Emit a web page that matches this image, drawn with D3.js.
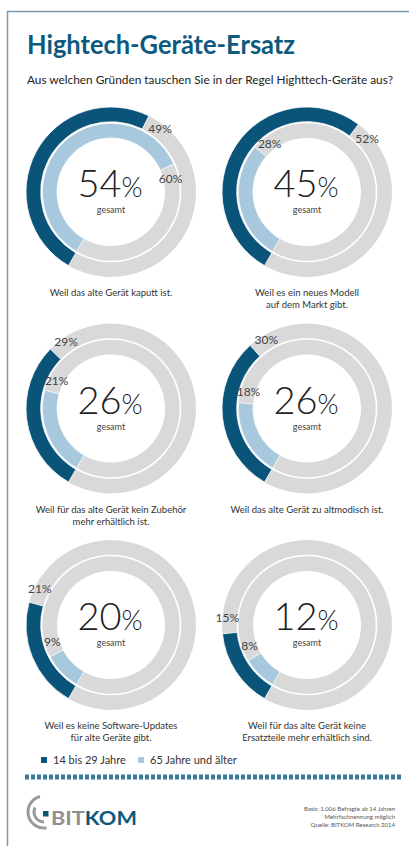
<!DOCTYPE html>
<html>
<head>
<meta charset="utf-8">
<script src="https://cdn.jsdelivr.net/npm/d3@7"></script>
<style>
  body { margin: 0; background: #fff; }
  svg { display: block; font-family: Lato, 'Open Sans', sans-serif; }
</style>
</head>
<body>
<svg id="chart"></svg>
<script>
const reasons = [
  ['Weil das alte Gerät kaputt ist.'],
  ['Weil es ein neues Modell', 'auf dem Markt gibt.'],
  ['Weil für das alte Gerät kein Zubehör', 'mehr erhältlich ist.'],
  ['Weil das alte Gerät zu altmodisch ist.'],
  ['Weil es keine Software-Updates', 'für alte Geräte gibt.'],
  ['Weil für das alte Gerät keine', 'Ersatzteile mehr erhältlich sind.']
]
const totalShare = [54, 45, 26, 26, 20, 12]
const youngShare = [49, 52, 29, 30, 21, 15]
const oldShare = [60, 28, 21, 18, 9, 8]
const legendLabels = ['14 bis 29 Jahre', '65 Jahre und älter']
const sourceLines = ['Basis: 1.006 Befragte ab 14 Jahren', 'Mehrfachnennung möglich', 'Quelle: BITKOM Research 2014']

let d3 = window.d3
let width = 409
let height = 846
let colors = { young: '#0b5479', old: '#a7c8dd', grey: '#d9d9d9', title: '#0e5a7e' }

let svg = d3.select('#chart')
  .attr('width', width)
  .attr('height', height)

// frame on top and left
svg.append('path')
  .attr('d', 'M7.5,846V11.5H409')
  .attr('fill', 'none')
  .attr('stroke', '#7899ab')
  .attr('stroke-width', 1.5)

svg.append('text')
  .attr('x', 27)
  .attr('y', 54)
  .attr('font-size', 27)
  .attr('font-weight', 700)
  .attr('fill', colors.title)
  .attr('textLength', 268)
  .attr('lengthAdjust', 'spacingAndGlyphs')
  .text('Hightech-Geräte-Ersatz')

svg.append('text')
  .attr('x', 27)
  .attr('y', 84)
  .attr('font-size', 11)
  .attr('fill', '#222')
  .attr('textLength', 366)
  .attr('lengthAdjust', 'spacingAndGlyphs')
  .text('Aus welchen Gründen tauschen Sie in der Regel Highttech-Geräte aus?')

// rings
let rOuter = 85
let rMid = 69.5
let rInner = 54
let startAngle = 210 * Math.PI / 180
let angle = d3.scaleLinear().domain([0, 100]).range([startAngle, startAngle + 2 * Math.PI])
let cx = d3.scalePoint().domain([0, 1]).range([111, 307])
let cy = d3.scalePoint().domain([0, 1, 2]).range([192, 625])

let outerArc = d3.arc().innerRadius(rMid + 0.8).outerRadius(rOuter)
let innerArc = d3.arc().innerRadius(rInner).outerRadius(rMid - 0.8)

let cells = svg.selectAll('g.donut')
  .data(totalShare.map((t, i) => ({ i: i, total: t, young: youngShare[i], old: oldShare[i], lines: reasons[i] })))
  .join('g')
  .attr('class', 'donut')
  .attr('transform', d => 'translate(' + cx(d.i % 2) + ',' + cy(Math.floor(d.i / 2)) + ')')

cells.append('path')
  .attr('d', outerArc({ startAngle: 0, endAngle: 2 * Math.PI }))
  .attr('fill', colors.grey)
cells.append('path')
  .attr('d', innerArc({ startAngle: 0, endAngle: 2 * Math.PI }))
  .attr('fill', colors.grey)

cells.append('path')
  .attr('d', d => outerArc({ startAngle: angle(0), endAngle: angle(d.young) }))
  .attr('fill', colors.young)
  .attr('stroke', '#fff')
  .attr('stroke-width', 0.8)
cells.append('path')
  .attr('d', d => innerArc({ startAngle: angle(0), endAngle: angle(d.old) }))
  .attr('fill', colors.old)
  .attr('stroke', '#fff')
  .attr('stroke-width', 0.8)

// value labels a bit past the arc end
function labelAt (value, r) {
  let a = angle(value) + 0.2
  return 'translate(' + (r * Math.sin(a)) + ',' + (-r * Math.cos(a)) + ')'
}
cells.append('text')
  .attr('transform', d => labelAt(d.young, 80))
  .attr('dy', '0.35em')
  .attr('text-anchor', 'middle')
  .attr('font-size', 12)
  .attr('fill', '#444')
  .text(d => d.young + '%')
cells.append('text')
  .attr('transform', d => labelAt(d.old, 61))
  .attr('dy', '0.35em')
  .attr('text-anchor', 'middle')
  .attr('font-size', 12)
  .attr('fill', '#444')
  .text(d => d.old + '%')

let big = cells.append('text')
  .attr('x', -1)
  .attr('y', 5)
  .attr('text-anchor', 'middle')
  .attr('fill', '#222')
  .attr('font-weight', 300)
big.append('tspan')
  .attr('font-size', 38)
  .text(d => d.total)
big.append('tspan')
  .attr('font-size', 27)
  .text('%')

cells.append('text')
  .attr('y', 21)
  .attr('text-anchor', 'middle')
  .attr('font-size', 9)
  .attr('fill', '#444')
  .text('gesamt')

cells.append('text')
  .attr('text-anchor', 'middle')
  .attr('font-size', 9.5)
  .attr('fill', '#333')
  .selectAll('tspan')
  .data(d => d.lines)
  .join('tspan')
  .attr('x', 0)
  .attr('y', (d, j) => 104 + j * 12)
  .text(d => d)

// legend
let legend = svg.selectAll('g.legend')
  .data(legendLabels)
  .join('g')
  .attr('class', 'legend')
  .attr('transform', (d, i) => 'translate(' + (41 + i * 97) + ',757)')
legend.append('rect')
  .attr('width', 6)
  .attr('height', 6)
  .attr('fill', (d, i) => i === 0 ? colors.young : colors.old)
legend.append('text')
  .attr('x', 12)
  .attr('y', 6.5)
  .attr('font-size', 11)
  .attr('fill', '#333')
  .text(d => d)

svg.append('line')
  .attr('x1', 25)
  .attr('x2', 401)
  .attr('y1', 777)
  .attr('y2', 777)
  .attr('stroke', '#3b7a99')
  .attr('stroke-width', 5)
  .attr('stroke-dasharray', '4,2')

// logo
let logo = svg.append('g').attr('transform', 'translate(44,812)')
logo.append('path')
  .attr('d', d3.arc().innerRadius(14.5).outerRadius(17.5)({ startAngle: -Math.PI * 1.05, endAngle: -Math.PI * 0.08 }))
  .attr('fill', '#9a9a9a')
logo.append('path')
  .attr('d', d3.arc().innerRadius(8.5).outerRadius(11.5)({ startAngle: -Math.PI * 1.0, endAngle: -Math.PI * 0.35 }))
  .attr('fill', '#9a9a9a')
logo.append('rect')
  .attr('x', -1)
  .attr('y', -1)
  .attr('width', 5.5)
  .attr('height', 5.5)
  .attr('fill', colors.young)
let brand = svg.append('text')
  .attr('x', 51)
  .attr('y', 825)
  .attr('font-size', 19)
  .attr('font-weight', 700)
  .attr('textLength', 86)
  .attr('lengthAdjust', 'spacingAndGlyphs')
brand.append('tspan').attr('fill', '#8f8f8f').text('BIT')
brand.append('tspan').attr('fill', colors.title).text('KOM')

svg.append('text')
  .attr('text-anchor', 'end')
  .attr('font-size', 6)
  .attr('fill', '#555')
  .selectAll('tspan')
  .data(sourceLines)
  .join('tspan')
  .attr('x', 395)
  .attr('y', (d, i) => 811 + i * 8)
  .text(d => d)
</script>
</body>
</html>
